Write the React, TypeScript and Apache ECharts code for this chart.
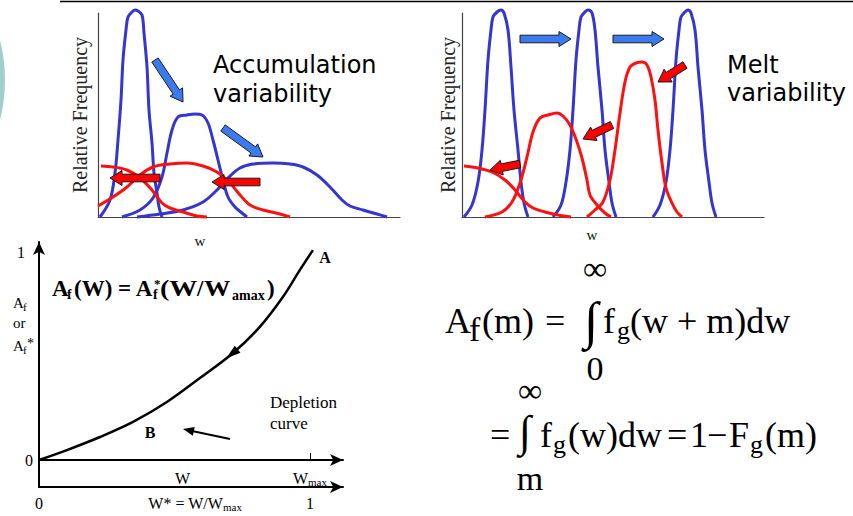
import React, { useEffect, useRef } from "react";
import * as echarts from "echarts";

// ---------- data (arbitrary schematic units) ----------
// Top-left panel: accumulation variability
const TL_BLUE_1 = [[2,0],[12,17],[17,44],[20,77],[23,117],[25,157],[28,187],[30,200],[34,205],[37,207],[40,206],[44,202],[46,184],[49,150],[51,107],[54,74],[56,44],[59,24],[61,10],[64,0]];
const TL_BLUE_2 = [[24,0],[42,7],[55,19],[64,40],[69,64],[74,87],[80,100],[89,102],[97,103],[104,102],[110,94],[115,77],[120,57],[125,37],[130,20],[137,10],[144,4],[149,0]];
const TL_BLUE_3 = [[39,0],[62,3],[85,7],[105,15],[119,27],[130,39],[142,49],[155,53],[175,54],[192,53],[205,50],[219,42],[232,30],[244,17],[252,11],[265,7],[279,3],[289,0]];
const TL_RED_1 = [[3,51],[15,50],[29,47],[42,39],[54,27],[64,14],[72,9],[85,5],[99,1],[109,0]];
const TL_RED_2 = [[0,11],[15,20],[29,30],[42,42],[55,50],[72,53],[89,54],[105,51],[119,45],[132,34],[142,22],[152,12],[165,7],[182,3],[192,0]];

// Top-right panel: melt variability
const TR_BLUE_1 = [[2,0],[10,12],[16,35],[20,67],[23,107],[26,157],[29,187],[31,200],[35,205],[39,207],[42,204],[46,187],[49,150],[52,107],[56,67],[59,35],[62,14],[66,0]];
const TR_BLUE_2 = [[91,0],[99,12],[104,35],[108,67],[111,107],[114,157],[117,187],[119,200],[123,205],[126,207],[130,204],[133,187],[136,150],[140,107],[143,67],[147,35],[150,14],[154,0]];
const TR_BLUE_3 = [[191,0],[198,12],[204,35],[208,67],[211,107],[214,157],[217,187],[219,200],[223,205],[226,207],[229,204],[233,187],[236,150],[240,107],[243,67],[247,35],[250,14],[254,0]];
const TR_RED_1 = [[2,51],[16,49],[30,45],[43,37],[53,27],[63,15],[71,9],[83,5],[96,2],[109,0]];
const TR_RED_2 = [[23,0],[40,5],[50,15],[58,34],[65,60],[71,85],[78,99],[86,102],[95,104],[101,101],[108,92],[115,75],[120,59],[125,37],[128,22],[135,12],[143,4],[149,0]];
const TR_RED_3 = [[125,0],[133,7],[141,15],[148,37],[153,67],[158,104],[163,135],[168,150],[174,154],[180,155],[185,152],[189,140],[193,117],[196,87],[200,54],[204,29],[210,14],[215,5],[220,0]];

// Bottom-left panel: depletion curve
const DEPLETION_W = [0, 0.103, 0.225, 0.347, 0.472, 0.594, 0.716, 0.815, 0.9, 0.963, 1.011];
const DEPLETION_AF = [0, 0.048, 0.111, 0.184, 0.28, 0.396, 0.517, 0.643, 0.787, 0.918, 1.014];
const BL_Y_TICKS = [0, 1];
const BL_X_TICKS = [0.53, 1];
const BL_X2_TICKS = [0, 0.576, 1];
// arrow drawn on the depletion curve (tail -> tip, in data units)
const CURVE_ARROW = [[0.745, 0.548], [0.69, 0.49]];

const SERIF = '"Liberation Serif", "Times New Roman", serif';
const SANS = '"DejaVu Sans", Verdana, sans-serif';
const BLUE = "#3535d0";
const RED = "#ff1010";

function tx(id: string, text: string, x: number, y: number, size: number, o: any = {}) {
  const align = o.align ?? "left";
  return {
    id,
    type: "text",
    x,
    y,
    z: 20,
    scaleX: o.scaleX ?? 1,
    style: {
      text,
      fontSize: size,
      fontFamily: o.family ?? SERIF,
      fontWeight: o.bold ? "bold" : "normal",
      fill: o.fill ?? "#000",
      align,
      verticalAlign: "middle",
      textAlign: align,
      textVerticalAlign: "middle",
    },
  };
}

function blockArrow(id: string, x1: number, y1: number, x2: number, y2: number, fill: string) {
  const dx = x2 - x1, dy = y2 - y1, L = Math.hypot(dx, dy);
  const ux = dx / L, uy = dy / L, nx = -uy, ny = ux;
  const bw = 3.8, hw = 7.5, hl = 12;
  const bx = x2 - ux * hl, by = y2 - uy * hl;
  const points = [
    [x1 + nx * bw, y1 + ny * bw],
    [bx + nx * bw, by + ny * bw],
    [bx + nx * hw, by + ny * hw],
    [x2, y2],
    [bx - nx * hw, by - ny * hw],
    [bx - nx * bw, by - ny * bw],
    [x1 - nx * bw, y1 - ny * bw],
  ];
  return { id, type: "polygon", z: 30, shape: { points }, style: { fill, stroke: "#1a1a1a", lineWidth: 1 } };
}

function head(id: string, x1: number, y1: number, x2: number, y2: number, len: number, hw: number) {
  const dx = x2 - x1, dy = y2 - y1, L = Math.hypot(dx, dy);
  const ux = dx / L, uy = dy / L, nx = -uy, ny = ux;
  const bx = x2 - ux * len, by = y2 - uy * len;
  return {
    id,
    type: "polygon",
    z: 30,
    shape: { points: [[x2, y2], [bx + nx * hw, by + ny * hw], [bx - nx * hw, by - ny * hw]] },
    style: { fill: "#000" },
  };
}

function curve(data: number[][], color: string, xi: number, yi: number) {
  return {
    type: "line",
    xAxisIndex: xi,
    yAxisIndex: yi,
    data,
    smooth: 0.35,
    showSymbol: false,
    clip: false,
    lineStyle: { color, width: 3 },
    silent: true,
  };
}

const hiddenAxisBits = { axisTick: { show: false }, axisLabel: { show: false }, splitLine: { show: false } };
const topAxisLine = { show: true, onZero: false, lineStyle: { color: "#444", width: 1.2 } };
const blAxisLine = { show: true, onZero: false, symbol: ["none", "arrow"], symbolSize: [9, 13], lineStyle: { color: "#000", width: 2 } };
const subRich = {
  n: { fontFamily: SERIF, fontSize: 16, color: "#000", lineHeight: 20 },
  s: { fontFamily: SERIF, fontSize: 11, color: "#000", lineHeight: 12, padding: [8, 0, 0, 0] },
  one: { fontFamily: SERIF, fontSize: 16, color: "#000", padding: [0, 8, 0, 0] },
};

function buildOption() {
  const graphic: any[] = [
    { id: "teal", type: "circle", z: 0, shape: { cx: -157, cy: 80, r: 162 }, style: { fill: "#9fcfcf" } },
    { id: "topline", type: "line", z: 1, shape: { x1: 60, y1: 1.5, x2: 853, y2: 1.5 }, style: { stroke: "#000", lineWidth: 1.5 } },
    tx("t1", "Accumulation", 213, 64.8, 24, { family: SANS }),
    tx("t2", "variability", 213, 93.8, 24, { family: SANS }),
    tx("t3", "Melt", 727, 64.8, 24, { family: SANS }),
    tx("t4", "variability", 727, 92.8, 24, { family: SANS }),
    blockArrow("a1", 155, 60, 183, 102, "#3b7bf0"),
    blockArrow("a2", 223, 128, 263, 157, "#3b7bf0"),
    blockArrow("a3", 160, 178, 110, 178, "#ff0000"),
    blockArrow("a4", 260, 182, 212, 182, "#ff0000"),
    blockArrow("a5", 520, 39, 571, 39, "#3b7bf0"),
    blockArrow("a6", 613, 39, 664, 39, "#3b7bf0"),
    blockArrow("a7", 685, 65, 658, 82, "#ff0000"),
    blockArrow("a8", 612, 125, 583, 139, "#ff0000"),
    blockArrow("a9", 520, 164, 490, 170, "#ff0000"),
    // bottom-left annotations
    tx("b1", "A", 13, 303, 15),
    tx("b2", "f", 23, 307, 11),
    tx("b3", "or", 13, 323, 15),
    tx("b4", "A", 13, 346, 15),
    tx("b5", "f", 23, 350, 11),
    tx("b6", "*", 27, 343, 14),
    tx("f1", "A", 52, 288.5, 23, { bold: true }),
    tx("f2", "f", 67, 294.5, 14, { bold: true }),
    tx("f3", "(W) = A", 74, 288.5, 23, { bold: true }),
    tx("f4", "f", 153, 294.5, 14, { bold: true }),
    tx("f5", "*", 154, 283, 13, { bold: true }),
    tx("f6", "(W", 160, 288.5, 23, { bold: true, scaleX: 1.22 }),
    tx("f7", "/", 197, 288.5, 23, { bold: true }),
    tx("f8", "W", 204, 288.5, 23, { bold: true, scaleX: 1.15 }),
    tx("f9", "amax", 232, 295, 14, { bold: true }),
    tx("f10", ")", 267, 288.5, 23, { bold: true }),
    tx("b7", "A", 325, 257, 16, { bold: true, align: "center" }),
    tx("b8", "B", 150, 432, 16, { bold: true, align: "center" }),
    tx("b9", "Depletion", 270, 402, 17),
    tx("b10", "curve", 270, 423, 17),
    { id: "dl", type: "line", z: 30, shape: { x1: 230, y1: 439, x2: 192, y2: 431 }, style: { stroke: "#000", lineWidth: 2 } },
    head("dh", 230, 439, 183, 429, 11, 4.5),
    // equation, line 1
    tx("e1", "A", 445, 320.8, 36),
    tx("e2", "f", 469, 329.4, 34),
    tx("e3", "(m)", 482, 320.8, 36),
    tx("e4", "=", 545, 320.8, 36),
    tx("e5", "\u222B", 591, 320, 52, { align: "center" }),
    tx("e6", "\u221E", 595, 268, 34, { align: "center" }),
    tx("e7", "0", 595, 368.4, 34, { align: "center" }),
    tx("e8", "f", 603, 320.8, 36),
    tx("e9", "g", 617, 330.2, 26),
    tx("e10", "(w + m)dw", 630, 320.8, 36),
    // equation, line 2
    tx("e11", "=", 490, 434.8, 36),
    tx("e12", "\u222B", 525, 431, 44, { align: "center" }),
    tx("e13", "\u221E", 530, 390, 34, { align: "center" }),
    tx("e14", "m", 530, 478.4, 34, { align: "center" }),
    tx("e15", "f", 540, 434.8, 36),
    tx("e16", "g", 553, 444.2, 26),
    tx("e17", "(w)dw", 568, 434.8, 36),
    tx("e18", "=", 667, 434.8, 36),
    tx("e19", "1", 690, 434.8, 36),
    tx("e20", "\u2212", 707, 434.8, 36),
    tx("e21", "F", 729, 434.8, 36),
    tx("e22", "g", 750, 444.2, 26),
    tx("e23", "(m)", 765, 434.8, 36),
  ];

  return {
    animation: false,
    backgroundColor: "#ffffff",
    grid: [
      { left: 98, top: 13, width: 302, height: 204 },
      { left: 462, top: 13, width: 302, height: 204 },
      { left: 39, top: 242, width: 304, height: 218 },
      { left: 39, top: 460, width: 304, height: 27 },
    ],
    xAxis: [
      {
        gridIndex: 0, type: "value", min: 0, max: 302, axisLine: topAxisLine, ...hiddenAxisBits,
        name: "w", nameLocation: "middle", nameGap: 16,
        nameTextStyle: { fontFamily: SERIF, fontSize: 15, color: "#111", padding: [0, 98, 0, 0] },
      },
      {
        gridIndex: 1, type: "value", min: 0, max: 302, axisLine: topAxisLine, ...hiddenAxisBits,
        name: "w", nameLocation: "middle", nameGap: 10,
        nameTextStyle: { fontFamily: SERIF, fontSize: 15, color: "#111", padding: [0, 42, 0, 0] },
      },
      {
        gridIndex: 2, type: "value", min: 0, max: 1.122, position: "bottom",
        axisLine: blAxisLine,
        axisTick: { show: true, inside: true, length: 7, customValues: [1], lineStyle: { color: "#000", width: 1 } },
        axisLabel: {
          customValues: BL_X_TICKS, margin: 8, rich: subRich,
          formatter: (v: number) => (Math.abs(v - 1) < 0.01 ? "{n|W}{s|max}" : "{n|W}"),
        },
        splitLine: { show: false },
      },
      {
        gridIndex: 3, type: "value", min: 0, max: 1.122, position: "bottom",
        axisLine: blAxisLine,
        axisTick: { show: false },
        axisLabel: {
          customValues: BL_X2_TICKS, margin: 6, rich: subRich,
          formatter: (v: number) => (v < 0.1 ? "{n|0}" : v > 0.9 ? "{n|1}" : "{n|W* = W/W}{s|max}"),
        },
        splitLine: { show: false },
      },
    ],
    yAxis: [
      {
        gridIndex: 0, type: "value", min: 0, max: 204, axisLine: topAxisLine, ...hiddenAxisBits,
        name: "Relative Frequency", nameLocation: "middle", nameGap: 8,
        nameTextStyle: { fontFamily: SERIF, fontSize: 20, color: "#222" },
      },
      {
        gridIndex: 1, type: "value", min: 0, max: 204, axisLine: topAxisLine, ...hiddenAxisBits,
        name: "Relative Frequency", nameLocation: "middle", nameGap: 4,
        nameTextStyle: { fontFamily: SERIF, fontSize: 20, color: "#222" },
      },
      {
        gridIndex: 2, type: "value", min: 0, max: 1.053,
        axisLine: blAxisLine,
        axisTick: { show: false },
        axisLabel: {
          customValues: BL_Y_TICKS, margin: 6, rich: subRich,
          formatter: (v: number) => (v > 0.5 ? "{one|1}" : "{n|0}"),
        },
        splitLine: { show: false },
      },
      {
        gridIndex: 3, type: "value", min: 0, max: 1,
        axisLine: { show: true, onZero: false, lineStyle: { color: "#000", width: 2 } },
        ...hiddenAxisBits,
      },
    ],
    series: [
      curve(TL_BLUE_1, BLUE, 0, 0),
      curve(TL_BLUE_2, BLUE, 0, 0),
      curve(TL_BLUE_3, BLUE, 0, 0),
      curve(TL_RED_1, RED, 0, 0),
      curve(TL_RED_2, RED, 0, 0),
      curve(TR_BLUE_1, BLUE, 1, 1),
      curve(TR_BLUE_2, BLUE, 1, 1),
      curve(TR_BLUE_3, BLUE, 1, 1),
      curve(TR_RED_1, RED, 1, 1),
      curve(TR_RED_2, RED, 1, 1),
      curve(TR_RED_3, RED, 1, 1),
      {
        type: "line",
        xAxisIndex: 2,
        yAxisIndex: 2,
        data: DEPLETION_W.map((w, i) => [w, DEPLETION_AF[i]]),
        smooth: 0.35,
        showSymbol: false,
        clip: false,
        lineStyle: { color: "#000", width: 2.5 },
      },
    ],
    graphic,
  };
}

export default function App() {
  const ref = useRef<HTMLDivElement>(null);
  useEffect(() => {
    if (!ref.current) return;
    const chart = echarts.init(ref.current, null, { renderer: "svg" });
    const option: any = buildOption();
    chart.setOption(option);
    // arrowhead sitting on the depletion curve, placed through the axis scales
    const tail = chart.convertToPixel({ gridIndex: 2 }, CURVE_ARROW[0]) as number[];
    const tip = chart.convertToPixel({ gridIndex: 2 }, CURVE_ARROW[1]) as number[];
    if (tail && tip) {
      option.graphic.push(head("ch", tail[0], tail[1], tip[0], tip[1], 15, 4.5));
      chart.setOption({ graphic: option.graphic });
    }
    return () => chart.dispose();
  }, []);
  return (
    <div
      ref={ref}
      style={{ position: "absolute", left: 0, top: 0, width: 853, height: 516, background: "#fff" }}
    />
  );
}
